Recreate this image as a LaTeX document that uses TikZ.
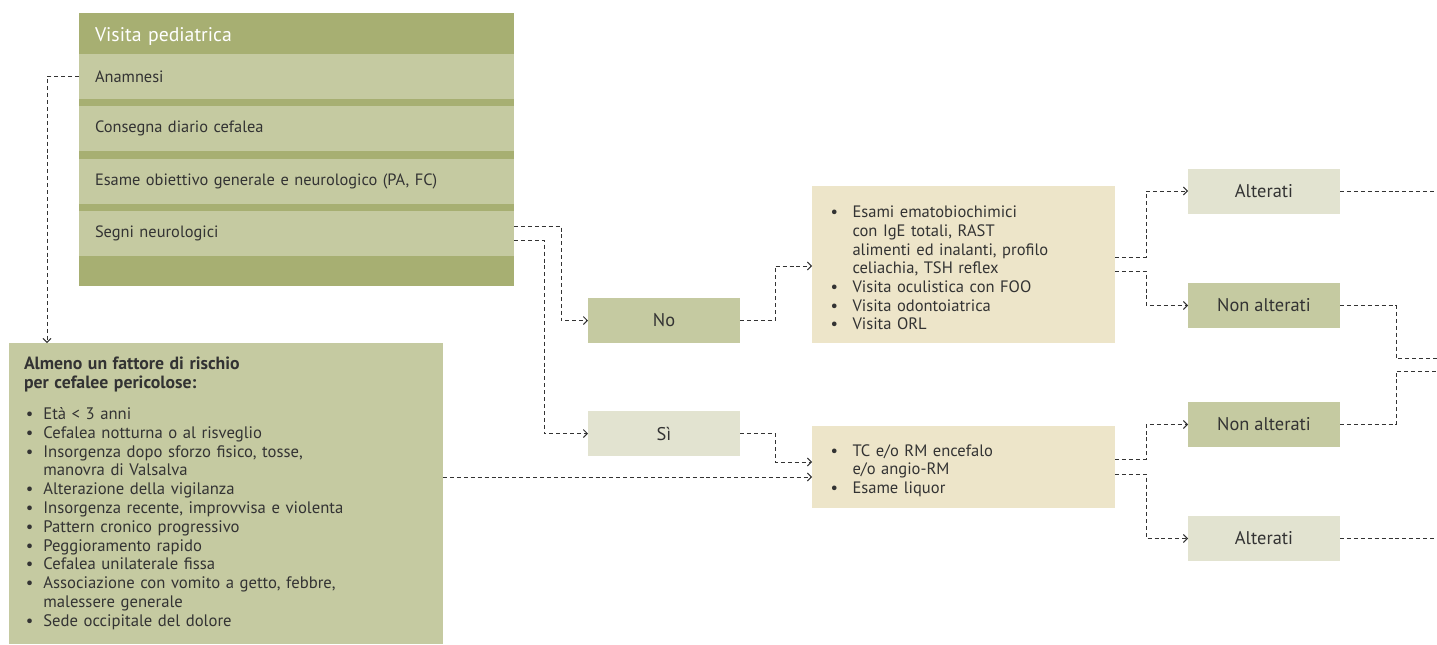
\documentclass[tikz,border=0pt]{standalone}
\usepackage{fontspec}
\setmainfont{PT Sans}
\usetikzlibrary{arrows.meta}
\definecolor{olive}{HTML}{A7AF72}
\definecolor{lightolive}{HTML}{C5CAA1}
\definecolor{pale}{HTML}{E2E3D0}
\definecolor{beige}{HTML}{EDE5C9}
\definecolor{ink}{HTML}{333333}
\newcommand\bul[2]{\par\hangindent=#1\hangafter=1\noindent\makebox[#1][l]{\hspace{1.5pt}\textbullet}#2}
\tikzset{
  base/.style={inner ysep=0pt, outer sep=0pt, text=ink},
  row/.style={base, fill=lightolive, anchor=north west, minimum height=33.75pt,
    text width=302.25pt, inner xsep=12pt, align=left, font=\fontsize{12.3}{14}\selectfont},
  label/.style={base, minimum width=114pt, minimum height=33.75pt, inner xsep=0pt,
    font=\fontsize{13.8}{15}\selectfont},
  listbox/.style={base, fill=beige, anchor=north west, align=left,
    font=\fontsize{12.4}{14}\selectfont},
  conn/.style={draw=ink, line width=0.7pt, dash pattern=on 3pt off 2.2pt,
    -{Straight Barb[length=3pt,width=6pt]}},
  connplain/.style={draw=ink, line width=0.7pt, dash pattern=on 3pt off 2.2pt}
}
\begin{document}
\begin{tikzpicture}[x=0.75pt,y=-0.75pt]
\useasboundingbox (0,0) rectangle (1437,644);
% top box
\node[base, fill=olive, anchor=north west, minimum width=326.25pt, minimum height=204.75pt, inner sep=0pt] (visita) at (79,13) {};
\node[base, anchor=west, text=white, text width=302.25pt, inner xsep=12pt, align=left, font=\fontsize{14.8}{16}\selectfont] (head) at (79,36.5) {Visita pediatrica};
\node[row] (anam) at (79,54) {Anamnesi};
\node[row] (diario) at (79,106) {Consegna diario cefalea};
\node[row] (esame) at (79,159) {Esame obiettivo generale e neurologico (PA, FC)};
\node[row] (segni) at (79,211) {Segni neurologici};
% risk box
\node[base, fill=lightolive, anchor=north west, minimum width=325.5pt, minimum height=225.75pt,
  text width=303pt, inner xsep=11.25pt, align=left, font=\fontsize{12.5}{14.1}\selectfont] (risk) at (9,343) {%
  {\fontsize{13.3}{14.1}\selectfont\bfseries Almeno un fattore di rischio\\per cefalee pericolose:}\par\vspace{9pt}
  \bul{14.5pt}{Età < 3 anni}
  \bul{14.5pt}{Cefalea notturna o al risveglio}
  \bul{14.5pt}{Insorgenza dopo sforzo fisico, tosse,\newline manovra di Valsalva}
  \bul{14.5pt}{Alterazione della vigilanza}
  \bul{14.5pt}{Insorgenza recente, improvvisa e violenta}
  \bul{14.5pt}{Pattern cronico progressivo}
  \bul{14.5pt}{Peggioramento rapido}
  \bul{14.5pt}{Cefalea unilaterale fissa}
  \bul{14.5pt}{Associazione con vomito a getto, febbre,\newline malessere generale}
  \bul{14.5pt}{Sede occipitale del dolore}\par};
% No / Si
\node[label, fill=lightolive] (no) at (664,320.5) {No};
\node[label, fill=pale] (si) at (664,433.5) {Sì};
% list boxes
\node[listbox, minimum width=227.25pt, minimum height=117.75pt, text width=202.5pt, inner xsep=12.375pt] (exams) at (812,186) {%
  \bul{18pt}{Esami ematobiochimici\newline con IgE totali, RAST\newline alimenti ed inalanti, profilo\newline celiachia, TSH reflex}
  \bul{18pt}{Visita oculistica con FOO}
  \bul{18pt}{Visita odontoiatrica}
  \bul{18pt}{Visita ORL}\par};
\node[listbox, minimum width=227.25pt, minimum height=61.5pt, text width=202.5pt, inner xsep=12.375pt] (imaging) at (812,426) {%
  \bul{18pt}{TC e/o RM encefalo\newline e/o angio-RM}
  \bul{18pt}{Esame liquor}\par};
% outcomes
\node[label, fill=pale] (alt1) at (1264,191) {Alterati};
\node[label, fill=lightolive] (na1) at (1264,305.5) {Non alterati};
\node[label, fill=lightolive] (na2) at (1264,424.5) {Non alterati};
\node[label, fill=pale] (alt2) at (1264,538.5) {Alterati};
\coordinate (o1) at (1437,191);
\coordinate (o2) at (1437,358);
\coordinate (o3) at (1437,371);
\coordinate (o4) at (1437,538.5);
% connectors
\draw[conn] (anam.west) -| (risk.north -| 47,0);
\draw[conn] (segni.east |- 0,226) -- (561,226) |- (no.west);
\draw[conn] (segni.east |- 0,240) -- (544,240) |- (si.west);
\draw[conn] (risk.east |- 0,477) -- (imaging.west |- 0,477);
\draw[conn] (no.east) -- (no.east -| 775,0) |- (exams.west |- 0,266);
\draw[conn] (si.east) -- (si.east -| 775,0) |- (imaging.west |- 0,462);
\draw[conn] (exams.east |- 0,257) -- (1146,257) |- (alt1.west);
\draw[conn] (exams.east |- 0,271) -- (1146,271) |- (na1.west);
\draw[conn] (imaging.east |- 0,459) -- (1146,459) |- (na2.west);
\draw[conn] (imaging.east |- 0,474) -- (1146,474) |- (alt2.west);
\draw[connplain] (alt1.east) -- (o1);
\draw[connplain] (na1.east) -- (na1.east -| 1396,0) |- (o2);
\draw[connplain] (na2.east) -- (na2.east -| 1396,0) |- (o3);
\draw[connplain] (alt2.east) -- (o4);
\end{tikzpicture}
\end{document}
